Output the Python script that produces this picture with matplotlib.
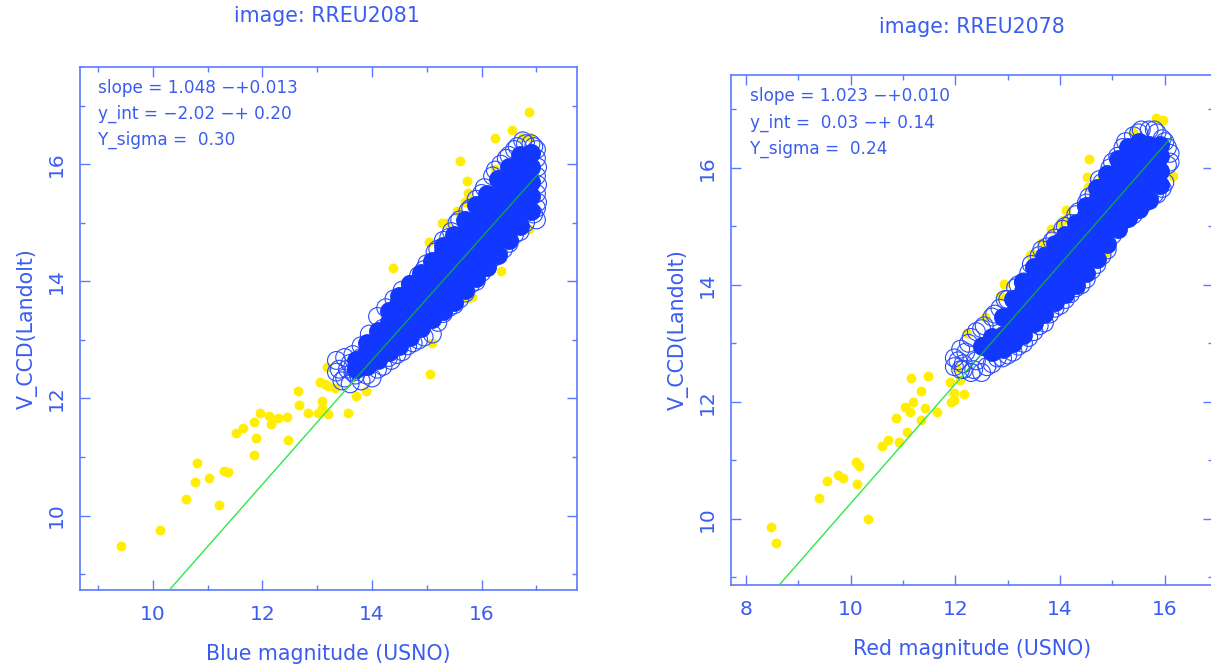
import matplotlib
matplotlib.use("Agg")
import matplotlib.pyplot as plt
from matplotlib.ticker import MultipleLocator

# all values
BLUE = '#1238ff'
FRAME = '#5c78ff'
TEXT = '#3a5cf0'
GREEN = '#2ee84a'
DARK_GREEN = '#12a050'
YELLOW = '#ffee00'

left_yellow_x = [9.41, 10.13, 10.61, 11.20, 10.77, 10.81, 11.03, 11.29, 11.37, 11.84, 11.88, 11.52,
                 11.65, 11.85, 11.96, 12.12, 12.16, 12.28, 12.44, 12.46, 12.65, 12.67, 12.83, 13.01,
                 13.08, 13.08, 13.19, 13.56, 13.71, 13.89, 13.05, 13.14, 13.20, 13.32, 13.18,
                 16.87, 16.55, 16.24, 16.73, 16.88, 15.60, 16.25, 15.73, 15.75, 15.69, 15.55, 15.27,
                 15.35, 15.04, 14.38, 16.87, 16.36, 15.82, 15.75, 15.09, 15.06]
left_yellow_y = [9.48, 9.75, 10.28, 10.18, 10.58, 10.90, 10.64, 10.77, 10.74, 11.04, 11.33, 11.41,
                 11.50, 11.59, 11.75, 11.70, 11.56, 11.66, 11.68, 11.29, 12.12, 11.89, 11.75, 11.75,
                 11.95, 11.83, 11.73, 11.76, 12.04, 12.13, 12.28, 12.25, 12.22, 12.18, 12.54,
                 16.90, 16.59, 16.45, 16.47, 16.46, 16.06, 15.92, 15.72, 15.51, 15.36, 15.20, 14.99,
                 14.99, 14.67, 14.22, 14.90, 14.17, 13.74, 13.71, 12.94, 12.42]

left_ring_x = [13.35, 13.5, 13.65, 13.8, 13.95, 14.1, 14.25, 14.4, 14.55, 14.7, 14.85, 15.0, 15.15,
               15.3, 15.45, 15.6, 15.75, 15.9, 16.05, 16.2, 16.35, 16.5, 16.65, 16.8, 16.95, 17.0,
               17.0, 17.0, 17.0, 16.95, 16.7, 16.5, 16.3, 16.1, 15.9, 15.7, 15.5, 15.3, 15.1, 14.95,
               14.75, 14.55, 14.35, 14.2, 14.0, 13.8, 13.6, 13.45, 13.35, 13.55, 13.75, 13.9, 14.05,
               14.15, 14.3, 14.4, 13.65, 13.85,
               13.4, 13.5, 13.6, 13.7, 13.8, 13.9, 14.0, 14.1, 14.2, 14.3, 14.45, 14.45, 14.6, 14.65,
               14.8, 14.85, 14.95, 15.2, 15.2, 15.4, 15.4, 15.55, 15.6, 15.8, 15.8, 16.0, 16.0, 16.25,
               16.2, 16.45, 16.4, 16.6, 16.6, 16.75, 16.8, 16.9, 17.0, 17.02, 17.02, 17.02, 17.0]
left_ring_y = [12.65, 12.7, 12.75, 12.9, 13.1, 13.4, 13.55, 13.7, 13.85, 13.95, 14.1, 14.3, 14.5,
               14.7, 14.85, 15.05, 15.2, 15.4, 15.6, 15.8, 16.0, 16.15, 16.3, 16.35, 16.3, 16.1,
               15.8, 15.5, 15.25, 15.15, 14.85, 14.65, 14.5, 14.25, 14.0, 13.8, 13.6, 13.45, 13.1,
               13.05, 12.95, 12.8, 12.65, 12.55, 12.35, 12.3, 12.25, 12.3, 12.45, 12.5, 12.6, 12.55,
               12.75, 13.0, 12.9, 13.3, 12.45, 12.7,
               12.5, 12.35, 12.6, 12.4, 12.7, 12.4, 12.9, 12.5, 13.2, 12.7, 13.55, 12.75, 13.75, 12.9,
               13.9, 13.0, 14.2, 14.55, 13.3, 14.75, 13.55, 15.0, 13.7, 15.25, 13.95, 15.5, 14.15, 15.9,
               14.4, 16.1, 14.55, 16.25, 14.8, 16.4, 15.0, 16.35, 16.25, 15.95, 15.65, 15.35, 15.05]

# the part of the cloud where the circles run together, one list of y per x
left_core_x = [13.7, 13.9, 14.1, 14.3, 14.5, 14.7, 14.9, 15.1, 15.3, 15.5, 15.7, 15.9, 16.1, 16.3,
               16.5, 16.7, 16.9]
left_core_y = [[12.5, 12.65],
               [12.55, 12.8, 12.95],
               [12.65, 12.9, 13.15],
               [12.8, 13.05, 13.3, 13.5],
               [12.9, 13.15, 13.4, 13.65, 13.75],
               [13.05, 13.3, 13.55, 13.8, 13.95],
               [13.2, 13.45, 13.7, 13.95, 14.15],
               [13.35, 13.6, 13.85, 14.1, 14.35],
               [13.5, 13.75, 14.0, 14.25, 14.5, 14.6],
               [13.65, 13.9, 14.15, 14.4, 14.65, 14.8],
               [13.85, 14.1, 14.35, 14.6, 14.85, 15.05],
               [14.05, 14.3, 14.55, 14.8, 15.05, 15.3],
               [14.25, 14.5, 14.75, 15.0, 15.25, 15.5],
               [14.45, 14.7, 14.95, 15.2, 15.45, 15.75],
               [14.7, 14.95, 15.2, 15.45, 15.7, 15.95],
               [14.95, 15.2, 15.45, 15.7, 15.95, 16.15],
               [15.2, 15.45, 15.7, 15.95, 16.2]]

right_yellow_x = [8.47, 8.57, 9.39, 9.54, 9.75, 9.85, 10.11, 10.16, 10.12, 10.33, 10.59, 10.72,
                  10.92, 10.86, 11.08, 11.04, 11.13, 11.19, 11.16, 11.47, 11.35, 11.41, 11.34, 11.64,
                  11.89, 11.92, 11.98, 11.98, 12.16, 12.09, 12.02,
                  15.83, 15.96, 15.39, 15.07, 14.56, 14.51, 14.80, 16.15, 14.53, 14.12, 14.05, 13.99,
                  13.83, 13.64, 13.48, 13.42, 14.89, 14.21, 14.53, 12.93, 12.86, 12.56, 12.22, 13.48,
                  13.24]
right_yellow_y = [9.86, 9.59, 10.36, 10.64, 10.74, 10.69, 10.97, 10.90, 10.60, 10.00, 11.25, 11.34,
                  11.31, 11.73, 11.49, 11.91, 11.82, 11.99, 12.41, 12.44, 12.18, 11.90, 11.69, 11.83,
                  12.34, 12.00, 12.03, 12.15, 12.13, 12.37, 12.57,
                  16.86, 16.82, 16.62, 16.18, 16.16, 15.84, 15.85, 15.86, 15.68, 15.28, 15.11, 15.05,
                  14.96, 14.71, 14.53, 14.51, 14.57, 13.95, 14.28, 14.01, 13.81, 13.45, 13.17, 13.26,
                  13.08]

right_ring_x = [11.98, 12.1, 12.25, 12.4, 12.55, 12.7, 12.85, 13.0, 13.15, 13.3, 13.45, 13.6, 13.75,
                13.9, 14.05, 14.2, 14.35, 14.5, 14.65, 14.8, 14.95, 15.1, 15.25, 15.4, 15.55, 15.7,
                15.85, 16.0, 16.1, 16.05, 16.0, 15.85, 15.7, 15.5, 15.3, 15.1, 14.9, 14.7, 14.5,
                14.3, 14.1, 13.9, 13.7, 13.5, 13.3, 13.1, 12.9, 12.7, 12.5, 12.3, 12.1, 11.98,
                12.2, 12.4, 12.15, 12.6,
                12.05, 12.15, 12.3, 12.35, 12.5, 12.6, 12.75, 12.8, 12.95, 13.0, 13.2, 13.2, 13.4, 13.4,
                13.65, 13.6, 13.85, 13.8, 14.1, 14.0, 14.3, 14.2, 14.55, 14.4, 14.75, 14.6, 15.0, 14.8,
                15.2, 15.0, 15.5, 15.2, 15.8, 15.4, 15.95, 15.6, 16.05, 15.8, 16.1, 15.95]
right_ring_y = [12.75, 12.9, 13.0, 13.2, 13.3, 13.45, 13.6, 13.75, 13.95, 14.05, 14.35, 14.5, 14.65,
                14.8, 14.95, 15.05, 15.25, 15.4, 15.55, 15.75, 16.0, 16.2, 16.45, 16.55, 16.65,
                16.65, 16.6, 16.45, 16.25, 16.05, 15.75, 15.55, 15.5, 15.3, 15.15, 15.0, 14.6, 14.35,
                14.1, 13.95, 13.75, 13.6, 13.35, 13.2, 13.0, 12.85, 12.75, 12.65, 12.5, 12.5, 12.55,
                12.6, 12.85, 12.7, 12.65, 12.95,
                12.7, 12.55, 13.1, 12.55, 13.25, 12.6, 13.5, 12.75, 13.75, 12.8, 14.0, 12.95, 14.2, 13.1,
                14.6, 13.3, 14.75, 13.5, 15.0, 13.65, 15.2, 13.85, 15.5, 14.0, 15.8, 14.25, 16.1, 14.5,
                16.35, 14.85, 16.6, 15.1, 16.65, 15.2, 16.5, 15.4, 16.35, 15.55, 16.1, 15.65]

right_core_x = [12.5, 12.7, 12.9, 13.1, 13.3, 13.5, 13.7, 13.9, 14.1, 14.3, 14.5, 14.7, 14.9,
                15.1, 15.3, 15.5, 15.7, 15.9]
right_core_y = [[12.95],
                [12.85, 13.1],
                [12.9, 13.15, 13.45],
                [13.0, 13.25, 13.5, 13.75],
                [13.15, 13.4, 13.65, 13.9, 14.05],
                [13.35, 13.6, 13.85, 14.1, 14.3],
                [13.5, 13.75, 14.0, 14.25, 14.5],
                [13.7, 13.95, 14.2, 14.45, 14.7],
                [13.85, 14.1, 14.35, 14.6, 14.85],
                [14.0, 14.25, 14.5, 14.75, 15.05],
                [14.2, 14.45, 14.7, 14.95, 15.2, 15.35],
                [14.45, 14.7, 14.95, 15.2, 15.45, 15.65],
                [14.7, 14.95, 15.2, 15.45, 15.7, 15.9],
                [14.95, 15.2, 15.45, 15.7, 15.95, 16.15],
                [15.15, 15.4, 15.65, 15.9, 16.15, 16.35],
                [15.3, 15.55, 15.8, 16.05, 16.3, 16.45],
                [15.45, 15.7, 15.95, 16.2, 16.4],
                [15.7, 15.95, 16.2, 16.4]]

# fit lines, bright outside the cloud and dark where it crosses the blue
left_fit_x = [10.3, 13.7]
left_fit_y = [8.73, 12.34]
left_fit_inner_x = [13.7, 17.03]
left_fit_inner_y = [12.34, 15.83]
right_fit_x = [8.6, 12.2]
right_fit_y = [8.83, 12.51]
right_fit_inner_x = [12.2, 16.12]
right_fit_inner_y = [12.51, 16.52]

left_stats = ["slope = 1.048 \u2212+0.013", "y_int = \u22122.02 \u2212+ 0.20", "Y_sigma =  0.30"]
right_stats = ["slope = 1.023 \u2212+0.010", "y_int =  0.03 \u2212+ 0.14", "Y_sigma =  0.24"]


def draw_panel(pos, xlim, ylim, yellow, rings, core, fit, fit_inner, stats, stats_pos, xlabel, xticks):
    ax = fig.add_axes(pos)
    ax.set_xlim(xlim)
    ax.set_ylim(ylim)

    ax.scatter(yellow[0], yellow[1], s=50, color=YELLOW, linewidths=0, zorder=2)
    ax.scatter(rings[0], rings[1], s=165, facecolors='none', edgecolors='#2a4cff', linewidths=0.8, zorder=3)
    # core goes over the rings so the middle of the cloud reads as solid blue
    for x, ys in zip(core[0], core[1]):
        ax.scatter([x] * len(ys), ys, s=185, color=BLUE, linewidths=0, zorder=4)
    ax.plot(fit[0], fit[1], color=GREEN, lw=1.0, zorder=5)
    ax.plot(fit_inner[0], fit_inner[1], color=DARK_GREEN, lw=1.0, zorder=5)

    ax.xaxis.set_major_locator(MultipleLocator(2))
    ax.xaxis.set_minor_locator(MultipleLocator(1))
    ax.yaxis.set_major_locator(MultipleLocator(2))
    ax.yaxis.set_minor_locator(MultipleLocator(1))
    ax.tick_params(which='major', direction='in', length=7.2, width=1.0, color=FRAME, top=True, right=True,
                   labelcolor=TEXT, labelsize=14.5)
    ax.tick_params(which='minor', direction='in', length=3.6, width=1.0, color=FRAME, top=True, right=True)
    ax.tick_params(axis='x', pad=11)
    ax.tick_params(axis='y', pad=10)
    for lab in ax.get_yticklabels():
        lab.set_rotation(90)
        lab.set_va('center')
    for spine in ax.spines.values():
        spine.set_color(FRAME)
        spine.set_linewidth(1.2)

    ax.set_xticks(xticks)
    ax.set_xticklabels([str(t) for t in xticks])
    ax.set_xlabel(xlabel, color=TEXT, fontsize=14.8, labelpad=14)
    ax.set_ylabel("V_CCD(Landolt)", color=TEXT, fontsize=14.8, labelpad=7)

    for i, line in enumerate(stats):
        ax.text(stats_pos[0], stats_pos[1][i], line, color=TEXT, fontsize=12.2, va='center', ha='left',
                transform=ax.transAxes)
    return ax


fig = plt.figure(figsize=(12.11, 6.68), dpi=100)

ax1 = draw_panel([80 / 1211, 1 - 590 / 668, 497 / 1211, 523 / 668], (8.67, 17.74), (8.73, 17.66),
                 (left_yellow_x, left_yellow_y), (left_ring_x, left_ring_y), (left_core_x, left_core_y),
                 (left_fit_x, left_fit_y), (left_fit_inner_x, left_fit_inner_y), left_stats,
                 (0.037, [0.96, 0.91, 0.86]), "Blue magnitude (USNO)", [10, 12, 14, 16])
ax2 = draw_panel([731 / 1211, 1 - 585 / 668, 482 / 1211, 510 / 668], (7.714, 16.92), (8.865, 17.59),
                 (right_yellow_x, right_yellow_y), (right_ring_x, right_ring_y), (right_core_x, right_core_y),
                 (right_fit_x, right_fit_y), (right_fit_inner_x, right_fit_inner_y), right_stats,
                 (0.039, [0.958, 0.907, 0.856]), "Red magnitude (USNO)", [8, 10, 12, 14, 16])

fig.text(327 / 1211, 1 - 16 / 668, "image: RREU2081", color=TEXT, fontsize=14.8, ha='center', va='center')
fig.text(972 / 1211, 1 - 27 / 668, "image: RREU2078", color=TEXT, fontsize=14.8, ha='center', va='center')

fig.savefig("out.png", dpi=100)
